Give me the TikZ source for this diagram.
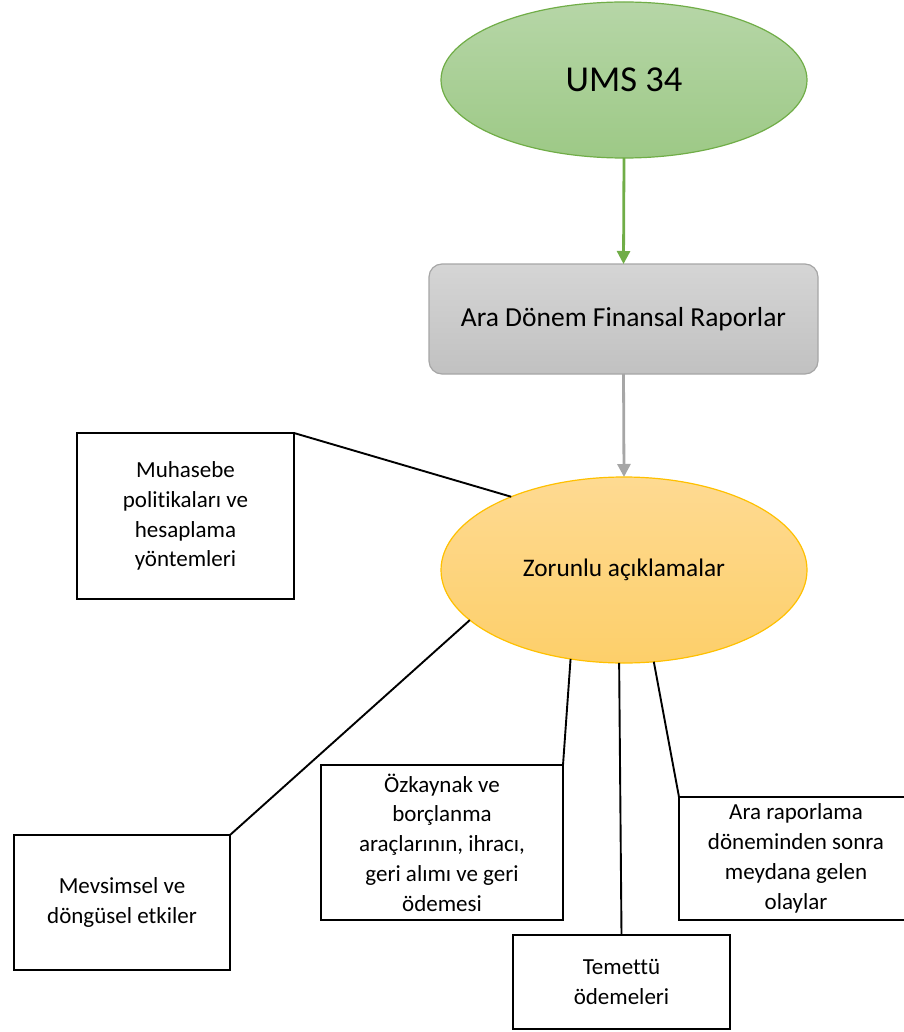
\documentclass[tikz,border=0pt]{standalone}
\usepackage{fontspec}
\setmainfont{Carlito}[Ligatures=NoCommon]
\usetikzlibrary{shapes.geometric,arrows.meta}
\definecolor{grtop}{RGB}{182,214,167}
\definecolor{grbot}{RGB}{157,201,134}
\definecolor{grline}{RGB}{112,173,71}
\definecolor{gytop}{RGB}{213,213,213}
\definecolor{gybot}{RGB}{193,193,193}
\definecolor{gyline}{RGB}{166,166,166}
\definecolor{ortop}{RGB}{254,218,146}
\definecolor{orbot}{RGB}{253,207,106}
\definecolor{orline}{RGB}{255,192,0}
\begin{document}
\begin{tikzpicture}[x=1pt,y=1pt,
  topell/.style={ellipse, draw=grline, line width=1.2pt, top color=grtop, bottom color=grbot,
    inner sep=0pt, outer sep=0pt, minimum width=366pt, minimum height=156pt,
    font=\fontsize{36.5}{44}\selectfont},
  graybox/.style={rectangle, rounded corners=13pt, draw=gyline, line width=1.2pt, top color=gytop, bottom color=gybot,
    inner sep=0pt, outer sep=0pt, minimum width=389pt, minimum height=110pt,
    font=\fontsize{27.5}{32}\selectfont},
  orell/.style={ellipse, draw=orline, line width=1.2pt, top color=ortop, bottom color=orbot,
    inner sep=0pt, outer sep=0pt, minimum width=366pt, minimum height=186pt,
    font=\fontsize{25.3}{30}\selectfont},
  infobox/.style={rectangle, draw=black, line width=2pt, fill=white, inner sep=0pt, outer sep=0pt,
    align=center, font=\fontsize{23}{29.8}\selectfont},
  link/.style={draw=black, line width=1.9pt},
  greenarrow/.style={draw=grline, line width=2.8pt, -{Triangle[length=13pt,width=13pt]}},
  grayarrow/.style={draw=gyline, line width=2.8pt, -{Triangle[length=13pt,width=13pt]}}
]
\useasboundingbox (0,0) rectangle (903,-1032);

\node[topell] (ums) at (624,-80) {UMS 34};
\node[graybox] (adf) at (623.5,-319) {Ara Dönem Finansal Raporlar};
\node[orell] (zor) at (624,-570) {Zorunlu açıklamalar};

\node[infobox, minimum width=217pt, minimum height=166pt] (muh) at (185.5,-516)
  {Muhasebe\\politikaları ve\\hesaplama\\yöntemleri};
\node[infobox, minimum width=216pt, minimum height=135pt] (mev) at (122,-902.5)
  {Mevsimsel ve\\döngüsel etkiler};
\node[infobox, minimum width=242pt, minimum height=155pt] (ozk) at (442,-842.5)
  {Özkaynak ve\\borçlanma\\araçlarının, ihracı,\\geri alımı ve geri\\ödemesi};
\node[infobox, minimum width=217pt, minimum height=94pt] (tem) at (621.5,-982)
  {Temettü\\ödemeleri};
\node[infobox, minimum width=234pt, minimum height=123pt] (ara) at (796,-858.5)
  {Ara raporlama\\döneminden sonra\\meydana gelen\\olaylar};

\draw[greenarrow] (ums.south) -- (adf.north);
\draw[grayarrow] (adf.south) -- (zor.north);

\draw[link] (muh.north east) -- (zor.147);
\draw[link] (mev.north east) -- (zor.198.4);
\draw[link] (ozk.north east) -- (zor.239.8);
\draw[link] (tem.north) -- (zor.267);
\draw[link] (ara.north west) -- (zor.288.6);
\end{tikzpicture}
\end{document}
